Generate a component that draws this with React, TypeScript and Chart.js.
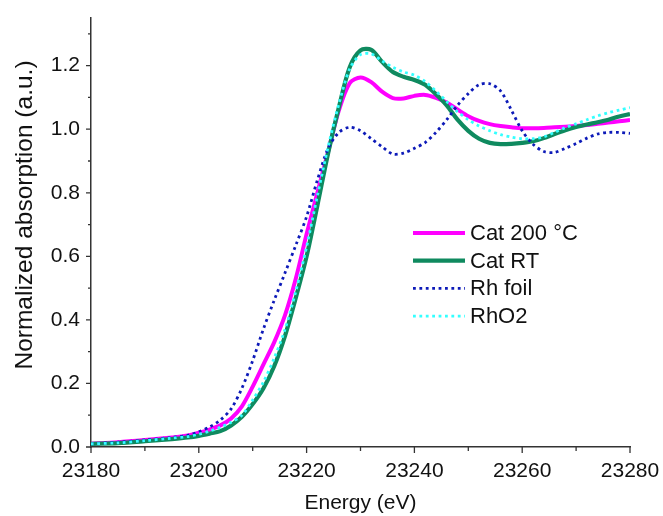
import React, { useEffect, useRef } from "react";
import { Chart, registerables } from "chart.js";

Chart.register(...registerables);

const energy = [23180, 23185, 23190, 23195, 23198, 23200, 23202, 23204, 23206, 23208, 23210, 23212, 23214, 23216, 23218, 23220, 23222, 23224, 23226, 23228, 23230, 23232, 23234, 23236, 23238, 23240, 23242, 23244, 23246, 23248, 23250, 23252, 23254, 23256, 23258, 23260, 23262, 23264, 23266, 23268, 23270, 23272, 23274, 23276, 23278, 23280];

const cat200 = [0.010, 0.015, 0.022, 0.030, 0.036, 0.045, 0.055, 0.068, 0.090, 0.128, 0.190, 0.260, 0.330, 0.415, 0.530, 0.670, 0.800, 0.930, 1.060, 1.145, 1.163, 1.148, 1.118, 1.098, 1.097, 1.105, 1.108, 1.099, 1.084, 1.062, 1.041, 1.026, 1.016, 1.010, 1.006, 1.003, 1.003, 1.004, 1.006, 1.008, 1.010, 1.013, 1.017, 1.021, 1.025, 1.029];

const catRT = [0.010, 0.012, 0.018, 0.025, 0.030, 0.035, 0.042, 0.050, 0.068, 0.095, 0.135, 0.185, 0.255, 0.350, 0.470, 0.600, 0.760, 0.925, 1.070, 1.195, 1.248, 1.250, 1.212, 1.180, 1.165, 1.155, 1.140, 1.110, 1.075, 1.030, 0.995, 0.970, 0.957, 0.953, 0.954, 0.957, 0.962, 0.972, 0.985, 0.997, 1.007, 1.015, 1.022, 1.030, 1.040, 1.048];

const rhFoil = [0.010, 0.015, 0.022, 0.030, 0.037, 0.048, 0.063, 0.085, 0.120, 0.185, 0.272, 0.372, 0.462, 0.548, 0.635, 0.725, 0.840, 0.940, 0.990, 1.006, 0.995, 0.970, 0.945, 0.922, 0.925, 0.940, 0.958, 0.990, 1.030, 1.075, 1.112, 1.140, 1.143, 1.120, 1.060, 0.995, 0.953, 0.930, 0.927, 0.940, 0.955, 0.972, 0.985, 0.990, 0.990, 0.987];

const rhO2 = [0.010, 0.013, 0.020, 0.028, 0.033, 0.040, 0.050, 0.062, 0.078, 0.100, 0.148, 0.205, 0.280, 0.370, 0.490, 0.630, 0.790, 0.945, 1.080, 1.190, 1.235, 1.237, 1.215, 1.195, 1.180, 1.170, 1.150, 1.120, 1.087, 1.055, 1.030, 1.010, 0.995, 0.983, 0.975, 0.970, 0.970, 0.976, 0.990, 1.005, 1.017, 1.030, 1.042, 1.052, 1.060, 1.068];

const seriesLabels = ["Cat 200 °C", "Cat RT", "Rh foil", "RhO2"];
const xTitle = "Energy (eV)";
const yTitle = "Normalized absorption (a.u.)";

const xMajorTicks = [23180, 23200, 23220, 23240, 23260, 23280];
const xMinorTicks = [23190, 23210, 23230, 23250, 23270];
const yMajorTicks = [0, 0.2, 0.4, 0.6, 0.8, 1.0, 1.2];
const yMinorTicks = [0.1, 0.3, 0.5, 0.7, 0.9, 1.1, 1.3];

const FONT = "'Liberation Sans', Arial, sans-serif";

const toPoints = (ys: number[]) => energy.map((x, i) => ({ x, y: ys[i] }));

const tickPlugin = {
  id: "customTicks",
  afterDraw(chart: any) {
    const ctx = chart.ctx;
    const xs = chart.scales.x;
    const ys = chart.scales.y;
    const area = chart.chartArea;
    ctx.save();
    ctx.strokeStyle = "#333";
    ctx.lineWidth = 1.3;
    ctx.beginPath();
    xMajorTicks.forEach((v) => {
      const p = xs.getPixelForValue(v);
      ctx.moveTo(p, area.bottom);
      ctx.lineTo(p, area.bottom + 6);
    });
    xMinorTicks.forEach((v) => {
      const p = xs.getPixelForValue(v);
      ctx.moveTo(p, area.bottom);
      ctx.lineTo(p, area.bottom + 4);
    });
    yMajorTicks.forEach((v) => {
      const p = ys.getPixelForValue(v);
      ctx.moveTo(area.left, p);
      ctx.lineTo(area.left - 5, p);
    });
    yMinorTicks.forEach((v) => {
      const p = ys.getPixelForValue(v);
      ctx.moveTo(area.left, p);
      ctx.lineTo(area.left - 3, p);
    });
    ctx.stroke();
    // y axis title
    ctx.fillStyle = "#111";
    ctx.font = `24.5px ${FONT}`;
    ctx.textAlign = "center";
    ctx.textBaseline = "middle";
    ctx.translate(25, area.top + 197);
    ctx.rotate(-Math.PI / 2);
    ctx.fillText(yTitle, 0, 0);
    ctx.restore();
  },
};

const legendPlugin = {
  id: "insideLegend",
  afterDraw(chart: any) {
    const ctx = chart.ctx;
    const area = chart.chartArea;
    const x0 = area.left + 322;
    const y0 = area.top + 215;
    const rowH = 27.7;
    ctx.save();
    chart.data.datasets.forEach((ds: any, i: number) => {
      const y = y0 + i * rowH;
      ctx.strokeStyle = ds.borderColor;
      ctx.lineWidth = ds.borderWidth;
      ctx.setLineDash(ds.borderDash || []);
      ctx.beginPath();
      ctx.moveTo(x0, y);
      ctx.lineTo(x0 + 52, y);
      ctx.stroke();
      ctx.setLineDash([]);
      ctx.fillStyle = "#111";
      ctx.font = `22px ${FONT}`;
      ctx.textBaseline = "middle";
      ctx.textAlign = "left";
      ctx.fillText(ds.label, x0 + 57, y + 1);
    });
    ctx.restore();
  },
};

export default function App() {
  const canvasRef = useRef<HTMLCanvasElement | null>(null);

  useEffect(() => {
    if (!canvasRef.current) return;
    const chart = new Chart(canvasRef.current, {
      type: "line",
      data: {
        datasets: [
          {
            label: seriesLabels[0],
            data: toPoints(cat200),
            borderColor: "#ff00ff",
            borderWidth: 4,
            pointRadius: 0,
            tension: 0.3,
            order: 4,
          },
          {
            label: seriesLabels[1],
            data: toPoints(catRT),
            borderColor: "#0f8a5f",
            borderWidth: 4.2,
            pointRadius: 0,
            tension: 0.3,
            order: 3,
          },
          {
            label: seriesLabels[2],
            data: toPoints(rhFoil),
            borderColor: "#0d1ab8",
            borderWidth: 2.8,
            borderDash: [2.8, 3.6],
            pointRadius: 0,
            tension: 0.3,
            order: 2,
          },
          {
            label: seriesLabels[3],
            data: toPoints(rhO2),
            borderColor: "#33ffff",
            borderWidth: 2.8,
            borderDash: [2.8, 3.6],
            pointRadius: 0,
            tension: 0.3,
            order: 1,
          },
        ],
      } as any,
      options: {
        animation: false,
        responsive: false,
        layout: { padding: { top: 18, right: 33, left: 0, bottom: 0 } },
        plugins: {
          legend: { display: false },
          tooltip: { enabled: false },
        },
        scales: {
          x: {
            type: "linear",
            min: 23180,
            max: 23280,
            afterBuildTicks: (s: any) => {
              s.ticks = xMajorTicks.map((v) => ({ value: v }));
            },
            afterFit: (s: any) => {
              s.height = 69;
              s.paddingLeft = 0;
              s.paddingRight = 0;
            },
            grid: { display: false, drawTicks: false },
            border: { display: true, color: "#333", width: 1.5 },
            ticks: {
              font: { family: FONT, size: 21 },
              color: "#111",
              padding: 12,
              maxRotation: 0,
              callback: (v: any) => String(v),
            },
            title: {
              display: true,
              text: xTitle,
              font: { family: FONT, size: 21 },
              color: "#111",
              padding: { top: 0, bottom: 0 },
            },
          },
          y: {
            type: "linear",
            min: 0,
            max: 1.35,
            afterBuildTicks: (s: any) => {
              s.ticks = yMajorTicks.map((v) => ({ value: v }));
            },
            afterFit: (s: any) => {
              s.width = 91;
              s.paddingTop = 0;
              s.paddingBottom = 0;
            },
            grid: { display: false, drawTicks: false },
            border: { display: true, color: "#333", width: 1.5 },
            ticks: {
              font: { family: FONT, size: 21 },
              color: "#111",
              padding: 11,
              callback: (v: any) => Number(v).toFixed(1),
            },
            title: { display: false },
          },
        },
      } as any,
      plugins: [tickPlugin, legendPlugin],
    });
    return () => chart.destroy();
  }, []);

  return (
    <div style={{ position: "fixed", left: 0, top: 0, width: 663, height: 516, background: "#fff" }}>
      <canvas ref={canvasRef} width={663} height={516} />
    </div>
  );
}
